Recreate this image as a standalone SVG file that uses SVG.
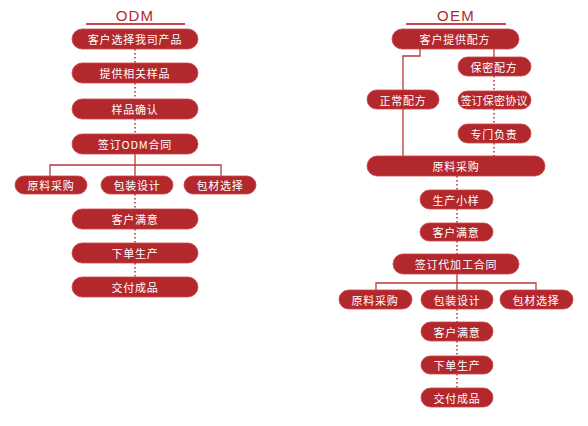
<svg xmlns="http://www.w3.org/2000/svg" width="588" height="426" viewBox="0 0 588 426">
<style>
.n rect{fill:#b3282d;stroke:#c9474a;stroke-width:0.8}
.n text{fill:#fff;font-family:"Noto Sans CJK SC","Noto Sans",sans-serif;font-size:11px;font-weight:400;text-anchor:middle;dominant-baseline:central;letter-spacing:0.8px}
.n text.s{letter-spacing:0.2px}
.t{fill:#b3282d;font-family:"Liberation Sans","Noto Sans",sans-serif;font-size:15px;text-anchor:middle;letter-spacing:1.2px}
.ul{stroke:#c24a4c;stroke-width:1.8}
.c path{fill:none;stroke:#b9393c;stroke-width:1.3}
.c path.d{stroke-dasharray:1.5 2.5;stroke-width:1.6}
</style>
<rect width="588" height="426" fill="#fff"/>
<text class="t" x="135" y="21">ODM</text>
<line class="ul" x1="86" y1="24" x2="185" y2="24"/>
<text class="t" x="456" y="21">OEM</text>
<line class="ul" x1="406" y1="24" x2="506" y2="24"/>
<g class="c">
<path class="d" d="M135 49V63M135 83V99M135 119V134M135 194V209M135 229V243M135 263V277"/>
<path d="M135 154V176M50 176V165H221V176"/>
<path d="M420 49V56H403V156M494 49V57"/>
<path class="d" d="M494 76V91M494 109V124M494 143V156M457 176V190M457 209V223M457 241V254M457 309V322M457 341V356M457 374V388"/>
<path d="M457 274V290M376 290V283H536V290"/>
</g>
<g id="odm1" class="n"><rect x="72" y="29" width="126" height="20" rx="10"/><text x="135" y="39">客户选择我司产品</text></g>
<g id="odm2" class="n"><rect x="72" y="63" width="126" height="20" rx="10"/><text x="135" y="73">提供相关样品</text></g>
<g id="odm3" class="n"><rect x="72" y="99" width="126" height="20" rx="10"/><text x="135" y="109">样品确认</text></g>
<g id="odm4" class="n"><rect x="72" y="134" width="126" height="20" rx="10"/><text x="135" y="144">签订ODM合同</text></g>
<g id="odm5" class="n"><rect x="15" y="176" width="72" height="18" rx="9"/><text x="51" y="185">原料采购</text></g>
<g id="odm6" class="n"><rect x="101" y="176" width="72" height="18" rx="9"/><text x="137" y="185">包装设计</text></g>
<g id="odm7" class="n"><rect x="184" y="176" width="72" height="18" rx="9"/><text x="220" y="185">包材选择</text></g>
<g id="odm8" class="n"><rect x="72" y="209" width="126" height="20" rx="10"/><text x="135" y="219">客户满意</text></g>
<g id="odm9" class="n"><rect x="72" y="243" width="126" height="20" rx="10"/><text x="135" y="253">下单生产</text></g>
<g id="odm10" class="n"><rect x="72" y="277" width="126" height="20" rx="10"/><text x="135" y="287">交付成品</text></g>
<g id="oem1" class="n"><rect x="392" y="29" width="127" height="20" rx="10"/><text x="455" y="39">客户提供配方</text></g>
<g id="oem2" class="n"><rect x="458" y="57" width="73" height="19" rx="9.5"/><text x="494" y="66.5">保密配方</text></g>
<g id="oem3" class="n"><rect x="367" y="90" width="72" height="19" rx="9.5"/><text x="403" y="99.5">正常配方</text></g>
<g id="oem4" class="n"><rect x="458" y="91" width="73" height="18" rx="9"/><text class="s" x="494" y="100">签订保密协议</text></g>
<g id="oem5" class="n"><rect x="458" y="124" width="73" height="19" rx="9.5"/><text x="494" y="133.5">专门负责</text></g>
<g id="oem6" class="n"><rect x="367" y="156" width="178" height="20" rx="10"/><text x="456" y="166">原料采购</text></g>
<g id="oem7" class="n"><rect x="420" y="190" width="73" height="19" rx="9.5"/><text x="456" y="199.5">生产小样</text></g>
<g id="oem8" class="n"><rect x="420" y="223" width="73" height="18" rx="9"/><text x="456" y="232">客户满意</text></g>
<g id="oem9" class="n"><rect x="393" y="254" width="126" height="20" rx="10"/><text x="456" y="264">签订代加工合同</text></g>
<g id="oem10" class="n"><rect x="339" y="290" width="73" height="19" rx="9.5"/><text x="375" y="299.5">原料采购</text></g>
<g id="oem11" class="n"><rect x="421" y="290" width="72" height="19" rx="9.5"/><text x="457" y="299.5">包装设计</text></g>
<g id="oem12" class="n"><rect x="500" y="290" width="73" height="19" rx="9.5"/><text x="536" y="299.5">包材选择</text></g>
<g id="oem13" class="n"><rect x="421" y="322" width="72" height="19" rx="9.5"/><text x="457" y="331.5">客户满意</text></g>
<g id="oem14" class="n"><rect x="421" y="356" width="72" height="18" rx="9"/><text x="457" y="365">下单生产</text></g>
<g id="oem15" class="n"><rect x="421" y="388" width="72" height="19" rx="9.5"/><text x="457" y="397.5">交付成品</text></g>
</svg>
